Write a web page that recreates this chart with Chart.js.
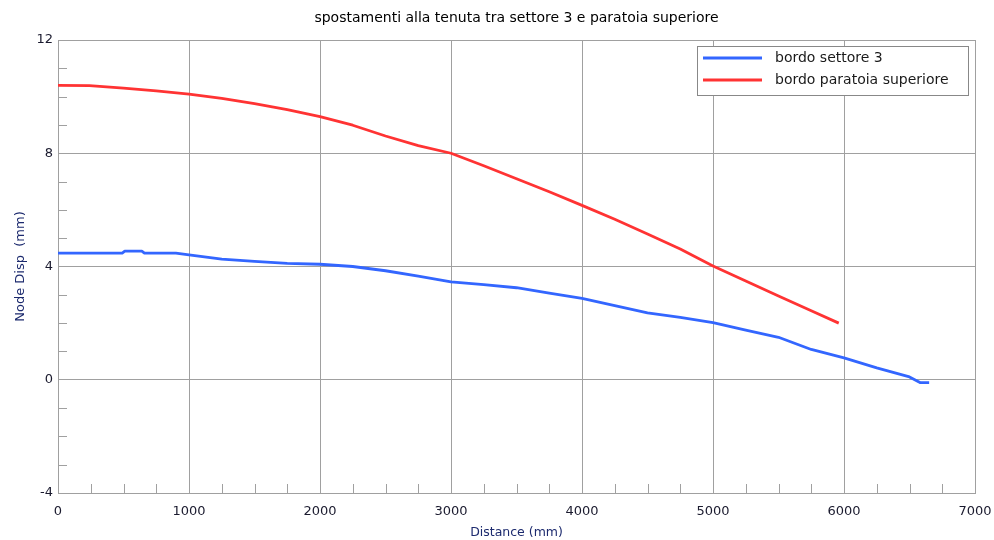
<!DOCTYPE html>
<html><head><meta charset="utf-8">
<script src="https://cdn.jsdelivr.net/npm/chart.js@4/dist/chart.umd.min.js"></script>
<style>html,body{margin:0;padding:0;background:#fff}#wrap{width:994px;height:540px}</style>
</head><body><div id="wrap"><canvas id="c" width="994" height="540"></canvas></div>
<script>
const chartTitle = 'spostamenti alla tenuta tra settore 3 e paratoia superiore';
const xAxisTitle = 'Distance (mm)';
const yAxisTitle = 'Node Disp  (mm)';
const seriesNames = ['bordo settore 3', 'bordo paratoia superiore'];

const blueX = [0, 490, 510, 640, 660, 900, 1000, 1250, 1500, 1750, 2000, 2250, 2500, 2750, 3000, 3250, 3500, 3750, 4000, 4250, 4500, 4750, 5000, 5250, 5500, 5750, 6000, 6250, 6500, 6580, 6650];
const blueY = [4.47, 4.47, 4.54, 4.54, 4.47, 4.47, 4.41, 4.26, 4.18, 4.11, 4.08, 4.00, 3.85, 3.66, 3.46, 3.36, 3.25, 3.06, 2.87, 2.62, 2.36, 2.20, 2.02, 1.75, 1.50, 1.07, 0.77, 0.42, 0.10, -0.10, -0.10];

const redX = [0, 240, 500, 750, 1000, 1250, 1500, 1750, 2000, 2250, 2500, 2750, 3000, 3250, 3500, 3750, 4000, 4250, 4500, 4750, 5000, 5250, 5500, 5750, 5960];
const redY = [10.40, 10.39, 10.30, 10.20, 10.09, 9.94, 9.75, 9.54, 9.29, 8.99, 8.61, 8.27, 8.00, 7.56, 7.10, 6.64, 6.16, 5.67, 5.15, 4.62, 4.02, 3.49, 2.96, 2.44, 2.00];

const xRange = [0, 7000], xMajor = 1000, xMinor = 250;
const yRange = [-4, 12], yMajor = 4, yMinor = 1;

const gridColor = '#a0a0a0';
const FONT = 'DejaVu Sans';

const toPts = (xs, ys) => xs.map((x, i) => ({x: x, y: ys[i]}));

const plotTitle = {
  id: 'plotTitle',
  afterDraw(chart) {
    const ctx = chart.ctx, a = chart.chartArea;
    ctx.save();
    ctx.font = '14px "' + FONT + '"';
    ctx.fillStyle = '#000';
    ctx.textAlign = 'center';
    ctx.textBaseline = 'middle';
    ctx.fillText(chartTitle, (a.left + a.right) / 2, 18);
    ctx.restore();
  }
};

const minorTicks = {
  id: 'minorTicks',
  beforeDatasetsDraw(chart) {
    const ctx = chart.ctx, xs = chart.scales.x, ys = chart.scales.y, a = chart.chartArea;
    ctx.save();
    ctx.strokeStyle = gridColor; ctx.lineWidth = 1;
    ctx.beginPath();
    for (let v = xRange[0]; v <= xRange[1]; v += xMinor) {
      if (v % xMajor === 0) continue;
      const px = Math.round(xs.getPixelForValue(v)) + 0.5;
      ctx.moveTo(px, a.bottom); ctx.lineTo(px, a.bottom - 9);
    }
    for (let v = yRange[0]; v <= yRange[1]; v += yMinor) {
      if ((v - yRange[0]) % yMajor === 0) continue;
      const py = Math.round(ys.getPixelForValue(v)) + 0.5;
      ctx.moveTo(a.left, py); ctx.lineTo(a.left + 9, py);
    }
    ctx.stroke();
    ctx.restore();
  }
};

const boxLegend = {
  id: 'boxLegend',
  afterDatasetsDraw(chart) {
    const ctx = chart.ctx;
    const bx = 697.5, by = 46.5, bw = 271, bh = 49;
    ctx.save();
    ctx.fillStyle = '#fff';
    ctx.fillRect(bx, by, bw, bh);
    ctx.strokeStyle = '#888'; ctx.lineWidth = 1;
    ctx.strokeRect(bx, by, bw, bh);
    ctx.font = '14px "' + FONT + '"';
    ctx.textBaseline = 'middle';
    chart.data.datasets.forEach((ds, i) => {
      const y = 58 + i * 22;
      ctx.strokeStyle = ds.borderColor; ctx.lineWidth = 2.8;
      ctx.beginPath(); ctx.moveTo(703, y); ctx.lineTo(762, y); ctx.stroke();
      ctx.fillStyle = '#1a1a1a';
      ctx.fillText(ds.label, 775, y);
    });
    ctx.restore();
  }
};

new Chart(document.getElementById('c'), {
  type: 'scatter',
  data: {
    datasets: [
      {label: seriesNames[0], data: toPts(blueX, blueY), borderColor: '#3366ff', backgroundColor: '#3366ff', showLine: true, pointRadius: 0, borderWidth: 2.8, tension: 0, borderJoinStyle: 'round'},
      {label: seriesNames[1], data: toPts(redX, redY), borderColor: '#ff3333', backgroundColor: '#ff3333', showLine: true, pointRadius: 0, borderWidth: 2.8, tension: 0, borderJoinStyle: 'round'}
    ]
  },
  options: {
    responsive: false,
    animation: false,
    events: [],
    layout: {padding: {left: 0, right: 19, top: 40, bottom: 0}},
    plugins: {
      legend: {display: false},
      tooltip: {enabled: false},
      title: {display: false}
    },
    scales: {
      x: {
        type: 'linear', min: xRange[0], max: xRange[1],
        ticks: {stepSize: xMajor, color: '#1a1a2e', font: {family: FONT, size: 13}, padding: 11, maxRotation: 0, callback: v => String(v)},
        grid: {color: gridColor, drawTicks: false, lineWidth: 1},
        border: {color: gridColor},
        title: {display: true, text: xAxisTitle, color: '#1c2a6e', font: {family: FONT, size: 12.5}, padding: {top: 0, bottom: 0}},
        afterFit(s) { s.height = 47; s.paddingLeft = 0; s.paddingRight = 0; }
      },
      y: {
        type: 'linear', min: yRange[0], max: yRange[1],
        ticks: {stepSize: yMajor, color: '#1a1a2e', font: {family: FONT, size: 13}, padding: 5, callback: v => String(v)},
        grid: {color: gridColor, drawTicks: false, lineWidth: 1},
        border: {color: gridColor},
        title: {display: true, text: yAxisTitle, color: '#1c2a6e', font: {family: FONT, size: 13}, padding: {top: 13, bottom: 0}},
        afterFit(s) { s.width = 58; s.paddingTop = 0; s.paddingBottom = 0; }
      }
    }
  },
  plugins: [minorTicks, boxLegend, plotTitle]
});
</script>
</body></html>
